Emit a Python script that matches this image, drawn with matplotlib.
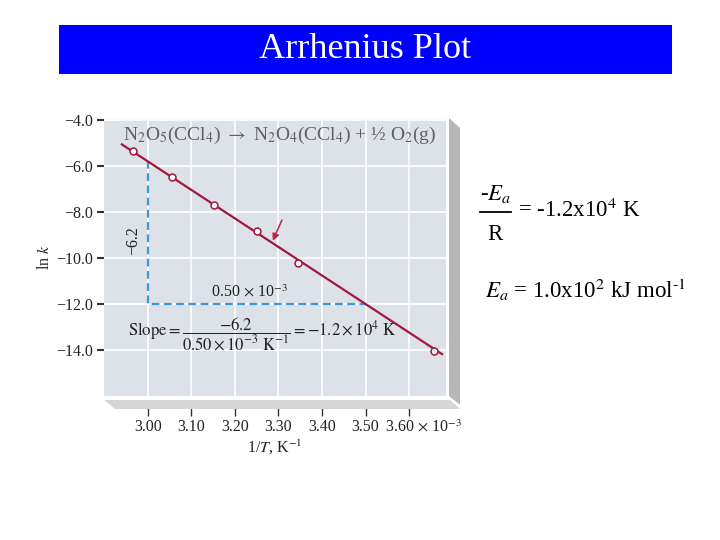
import matplotlib
matplotlib.use("Agg")
import matplotlib.pyplot as plt
from matplotlib.patches import Rectangle, Polygon
from matplotlib.lines import Line2D

# ---- data (1/T in 10^-3 K^-1, ln k) ----
inv_T = [2.966, 3.055, 3.152, 3.250, 3.345, 3.657]
ln_k = [-5.35, -6.48, -7.70, -8.83, -10.22, -14.04]
fit_x = [2.94, 3.676]
fit_y = [-5.06, -14.18]
x_ticks = [3.00, 3.10, 3.20, 3.30, 3.40, 3.50, 3.60]
x_ticklabels = ["3.00", "3.10", "3.20", "3.30", "3.40", "3.50", ""]
y_ticks = [-4.0, -6.0, -8.0, -10.0, -12.0, -14.0]
y_ticklabels = ["\u22124.0", "\u22126.0", "\u22128.0", "\u221210.0", "\u221212.0", "\u221214.0"]
run_x = [3.00, 3.00, 3.50]
run_y = [-5.8, -12.0, -12.0]

plt.rcParams['font.family'] = ['Liberation Serif', 'DejaVu Serif']
plt.rcParams['mathtext.fontset'] = 'stix'

W, H = 720, 540
fig = plt.figure(figsize=(7.2, 5.4), dpi=100)
fig.patch.set_facecolor('white')

def fx(px):
    return px / W

def fy(py):
    return 1 - py / H

# title bar
fig.patches.append(Rectangle((fx(59), fy(74)), fx(672) - fx(59), fy(25) - fy(74),
                             transform=fig.transFigure, facecolor='#0000ff', edgecolor='none'))
fig.text(fx(365), fy(50), "Arrhenius Plot", color='white', fontsize=26,
         ha='center', va='center')

# 3D shadows of the panel
right_sh = [(449, 118), (460, 128), (460, 405), (449, 396)]
bottom_sh = [(104, 400), (450, 400), (460, 409), (115, 409)]
fig.patches.append(Polygon([(fx(a), fy(b)) for a, b in right_sh], closed=True,
                           transform=fig.transFigure, facecolor='#b7b7b7', edgecolor='none'))
fig.patches.append(Polygon([(fx(a), fy(b)) for a, b in bottom_sh], closed=True,
                           transform=fig.transFigure, facecolor='#d6d6d6', edgecolor='none'))

ax = fig.add_axes([fx(104), fy(396), fx(446) - fx(104), fy(119) - fy(396)])
ax.set_facecolor('#dde1e8')
ax.set_xlim(2.899, 3.685)
ax.set_ylim(-16.0, -3.957)
for s in ax.spines.values():
    s.set_visible(False)
ax.spines['bottom'].set_position(('outward', 8))

ax.set_xticks(x_ticks)
ax.set_xticklabels(x_ticklabels)
ax.set_yticks(y_ticks)
ax.set_yticklabels(y_ticklabels)
ax.tick_params(axis='x', direction='out', length=6.5, width=1.0, color='#333333',
               labelsize=11.5, pad=2, labelcolor='#222222')
ax.tick_params(axis='y', direction='out', length=5, width=1.5, color='#333333',
               labelsize=11.5, pad=3, labelcolor='#222222')
ax.grid(True, color='white', lw=1.2)
ax.set_axisbelow(True)

ax.plot(run_x, run_y, color='#3a9ad9', lw=1.6, ls=(0, (3.5, 2)), zorder=2)
ax.plot(fit_x, fit_y, color='#a3173f', lw=1.6, zorder=3)
ax.plot(inv_T, ln_k, 'o', ms=5, mfc='white', mec='#a3173f', mew=1.1, zorder=4)

ax.annotate("", xy=(3.287, -9.25), xytext=(3.308, -8.35),
            arrowprops=dict(arrowstyle='-|>', color='#c0204a', lw=1.1,
                            mutation_scale=10, shrinkA=0, shrinkB=0))

ax.text(3.303, -4.66, r"N$_2$O$_5$(CCl$_4$) $\rightarrow$ N$_2$O$_4$(CCl$_4$) + ½ O$_2$(g)",
        color='#606060', fontsize=14, ha='center', va='center')
ax.text(2.966, -9.25, "\u22126.2", rotation=90, fontsize=11.5, ha='center', va='center',
        color='#222222')
ax.text(3.234, -11.5, r"0.50 $\times$ 10$^{-3}$", fontsize=11.5, ha='center', va='center',
        color='#222222')
ax.text(3.262, -13.3,
        r"$\mathrm{Slope} = \dfrac{-6.2}{0.50 \times 10^{-3}\ \mathrm{K}^{-1}} = -1.2 \times 10^{4}\ \mathrm{K}$",
        fontsize=12, ha='center', va='center', color='#222222')

ax.text(3.545, -17.38, r"3.60 $\times$ 10$^{-3}$", fontsize=11.5, ha='left', va='center',
        color='#222222', clip_on=False)
ax.set_xlabel(r"1/$T$, K$^{-1}$", fontsize=11.5, color='#222222', labelpad=2)
ax.set_ylabel(r"ln $k$", fontsize=11.5, color='#222222', labelpad=2)

# right-hand annotations
fig.text(fx(496), fy(194), "-$E_a$", fontsize=16.5, ha='center', va='center')
fig.lines.append(Line2D([fx(480), fx(511)], [fy(212), fy(212)], transform=fig.transFigure,
                        color='black', lw=1.3))
fig.text(fx(495), fy(235), "R", fontsize=16.5, ha='center', va='center')
fig.text(fx(518), fy(210), "= -1.2x10$^4$ K", fontsize=16.5, ha='left', va='center')
fig.text(fx(485), fy(290), r"$E_a$ = 1.0x10$^2$ kJ mol$^{\text{-}1}$", fontsize=16.5,
         ha='left', va='center')

fig.savefig("out.png", dpi=100, facecolor='white')
